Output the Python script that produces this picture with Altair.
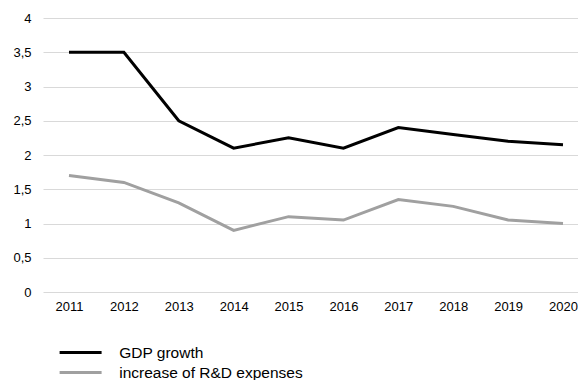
import altair as alt
import pandas as pd

years = ["2011", "2012", "2013", "2014", "2015", "2016", "2017", "2018", "2019", "2020"]
gdp_growth = [3.5, 3.5, 2.5, 2.1, 2.25, 2.1, 2.4, 2.3, 2.2, 2.15]
rd_increase = [1.7, 1.6, 1.3, 0.9, 1.1, 1.05, 1.35, 1.25, 1.05, 1.0]
series_names = ["GDP growth", "increase of R&D expenses"]
series_colors = ["#000000", "#a0a0a0"]
y_ticks = [0, 0.5, 1, 1.5, 2, 2.5, 3, 3.5, 4]

rows = []
for name, vals in zip(series_names, [gdp_growth, rd_increase]):
    for yr, v in zip(years, vals):
        rows.append({"year": yr, "value": v, "series": name})
df = pd.DataFrame(rows)

font = "Liberation Sans"

chart = alt.Chart(df).mark_line(strokeWidth=3, strokeJoin="miter", strokeCap="butt").encode(
    x=alt.X("year:O", sort=years, title=None,
            scale=alt.Scale(type="point", padding=0.3735, align=0.634),
            axis=alt.Axis(labelAngle=0, ticks=False, domain=False, grid=False,
                          labelFont=font, labelFontSize=13, labelColor="#000000",
                          labelPadding=8)),
    y=alt.Y("value:Q", title=None,
            scale=alt.Scale(domain=[0, 4], nice=False),
            axis=alt.Axis(values=y_ticks, labelExpr="replace(format(datum.value, ''), '.', ',')",
                          ticks=False, domain=False, grid=True, gridColor="#d9d9d9",
                          gridWidth=1, labelFont=font, labelFontSize=13,
                          labelColor="#000000", labelPadding=12)),
    color=alt.Color("series:N", sort=series_names,
                    scale=alt.Scale(domain=series_names, range=series_colors),
                    legend=alt.Legend(title=None, orient="none", legendX=27.6, legendY=324.6,
                                      symbolType="M-2.5,0H2.5", symbolSize=282,
                                      symbolStrokeWidth=3, symbolFillColor="transparent",
                                      labelOffset=28.6,
                                      labelFont=font, labelFontSize=15.5,
                                      labelColor="#000000", rowPadding=1, padding=0,
                                      labelLimit=400)),
).properties(
    width=535, height=274,
    autosize=alt.AutoSizeParams(type="none"),
    padding={"left": 35, "top": 10, "right": 0, "bottom": 92},
).configure_view(stroke=None)

chart.save("out.html", embed_options={"renderer": "svg", "actions": False})
